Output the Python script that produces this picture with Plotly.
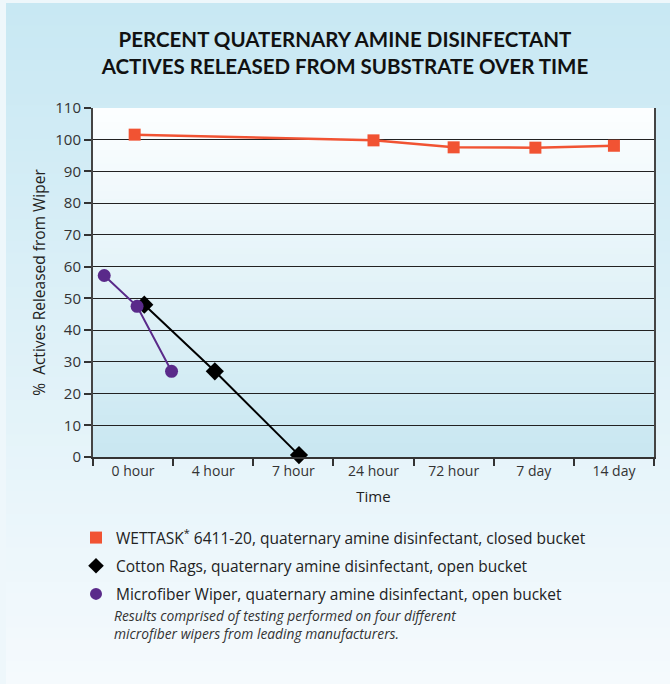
import plotly.graph_objects as go

# ---- data ----
time_labels = ["0 hour", "4 hour", "7 hour", "24 hour", "72 hour", "7 day", "14 day"]

wettask_x = [0.02, 3.0, 4.0, 5.02, 6.0]
wettask_y = [101.6, 99.8, 97.6, 97.5, 98.1]

cotton_x = [0.14, 1.02, 2.07]
cotton_y = [48.0, 27.0, 0.6]

micro_x = [-0.36, 0.05, 0.48]
micro_y = [57.2, 47.5, 27.0]

names = [
    "WETTASK<sup>*</sup> 6411-20, quaternary amine disinfectant, closed bucket",
    "Cotton Rags, quaternary amine disinfectant, open bucket",
    "Microfiber Wiper, quaternary amine disinfectant, open bucket",
]
note = ("Results comprised of testing performed on four different<br>"
        "microfiber wipers from leading manufacturers.")

ORANGE = "#f15333"
BLACK = "#000000"
PURPLE = "#5a2a8a"
BODY = "Open Sans, sans-serif"

W, H = 670, 684
ML, MR, MT, MB = 93, 16, 108, 227
PW = W - ML - MR
PH = H - MT - MB


def px_x(px):
    return (px - ML) / PW


def px_y(py):
    return (H - MB - py) / PH


def lerp(c1, c2, t):
    a = [int(c1[i:i + 2], 16) for i in (1, 3, 5)]
    b = [int(c2[i:i + 2], 16) for i in (1, 3, 5)]
    return "rgb(%d,%d,%d)" % tuple(round(a[k] + (b[k] - a[k]) * t) for k in range(3))


shapes = []
# panel gradient
N = 60
top_py, bot_py = 3, H
for i in range(N):
    y0 = top_py + (bot_py - top_py) * i / N
    y1 = top_py + (bot_py - top_py) * (i + 1) / N + 1
    shapes.append(dict(type="rect", xref="paper", yref="paper",
                       x0=px_x(6), x1=px_x(W + 2), y0=px_y(y1), y1=px_y(y0),
                       fillcolor=lerp("#c8e8f3", "#f5fafd", i / (N - 1)),
                       line=dict(width=0), layer="below"))
# plot area gradient
N2 = 50
for i in range(N2):
    y0 = 1 - i / N2
    y1 = 1 - (i + 1) / N2 - 0.003
    shapes.append(dict(type="rect", xref="paper", yref="paper",
                       x0=0, x1=1, y0=max(y1, 0), y1=y0,
                       fillcolor=lerp("#fcfeff", "#c9e7f1", i / (N2 - 1)),
                       line=dict(width=0), layer="below"))

fig = go.Figure()
fig.add_trace(go.Scatter(x=wettask_x, y=wettask_y, mode="lines+markers",
                         line=dict(color=ORANGE, width=2.5),
                         marker=dict(symbol="square", size=12, color=ORANGE),
                         showlegend=False, cliponaxis=False))
fig.add_trace(go.Scatter(x=cotton_x, y=cotton_y, mode="lines+markers",
                         line=dict(color=BLACK, width=2),
                         marker=dict(symbol="diamond", size=14, color=BLACK),
                         showlegend=False, cliponaxis=False))
fig.add_trace(go.Scatter(x=micro_x, y=micro_y, mode="lines+markers",
                         line=dict(color=PURPLE, width=2),
                         marker=dict(symbol="circle", size=13, color=PURPLE),
                         showlegend=False, cliponaxis=False))

# legend entries (marker only)
for nm, sym, col, g in [(names[0], "square", ORANGE, "a"),
                        (names[1], "diamond", BLACK, "b"),
                        (names[2], "circle", PURPLE, "c")]:
    fig.add_trace(go.Scatter(x=[None], y=[None], mode="markers", name=nm,
                             legendgroup=g,
                             marker=dict(symbol=sym, size=12, color=col)))

fig.update_layout(
    width=W, height=H,
    margin=dict(l=ML, r=MR, t=MT, b=MB, pad=0),
    paper_bgcolor="#eef7fb",
    plot_bgcolor="rgba(0,0,0,0)",
    font=dict(family=BODY, size=14, color="#222222"),
    shapes=shapes,
    title=dict(text="<b>PERCENT QUATERNARY AMINE DISINFECTANT<br>ACTIVES RELEASED FROM SUBSTRATE OVER TIME</b>",
               font=dict(family="Lato, sans-serif", size=20.5, color="#111111"),
               x=345 / W, xref="container", xanchor="center",
               y=1 - 47 / H, yref="container", yanchor="middle"),
    xaxis=dict(range=[-0.5, 6.5], tickmode="array",
               tickvals=list(range(len(time_labels))), ticktext=time_labels,
               ticks="", showgrid=False, zeroline=False,
               showline=True, linecolor="#333333", linewidth=1.5,
               tickfont=dict(size=14, color="#333333"),
               minor=dict(tickmode="linear", tick0=-0.5, dtick=1, ticks="outside",
                          ticklen=7, tickcolor="#333333", tickwidth=1.5, showgrid=False),
               title=dict(text="Time", font=dict(size=15, color="#222222"), standoff=13),
               fixedrange=True),
    yaxis=dict(range=[0, 110], dtick=10, tick0=0, ticks="outside", ticklen=7,
               tickcolor="#333333", tickwidth=1.5,
               showgrid=True, gridcolor="#222222", gridwidth=1,
               zeroline=False, showline=True, linecolor="#444444", linewidth=2,
               mirror=True,
               tickfont=dict(size=15, color="#333333"),
               title=dict(text="%  Actives Released from Wiper",
                          font=dict(size=15.5, color="#222222"), standoff=6),
               fixedrange=True),
    legend=dict(orientation="v", x=px_x(76), xanchor="left",
                y=px_y(521), yanchor="top", bgcolor="rgba(0,0,0,0)",
                tracegroupgap=5, font=dict(size=15.5, color="#222222"),
                itemclick=False),
    annotations=[dict(text="<i>" + note + "</i>", xref="paper", yref="paper",
                      x=px_x(112), y=px_y(604), xanchor="left", yanchor="top",
                      align="left", showarrow=False,
                      font=dict(size=13.8, color="#333333"))],
)

fig.write_html("out.html", config={"displayModeBar": False},
               post_script="document.body.style.margin='0';")
